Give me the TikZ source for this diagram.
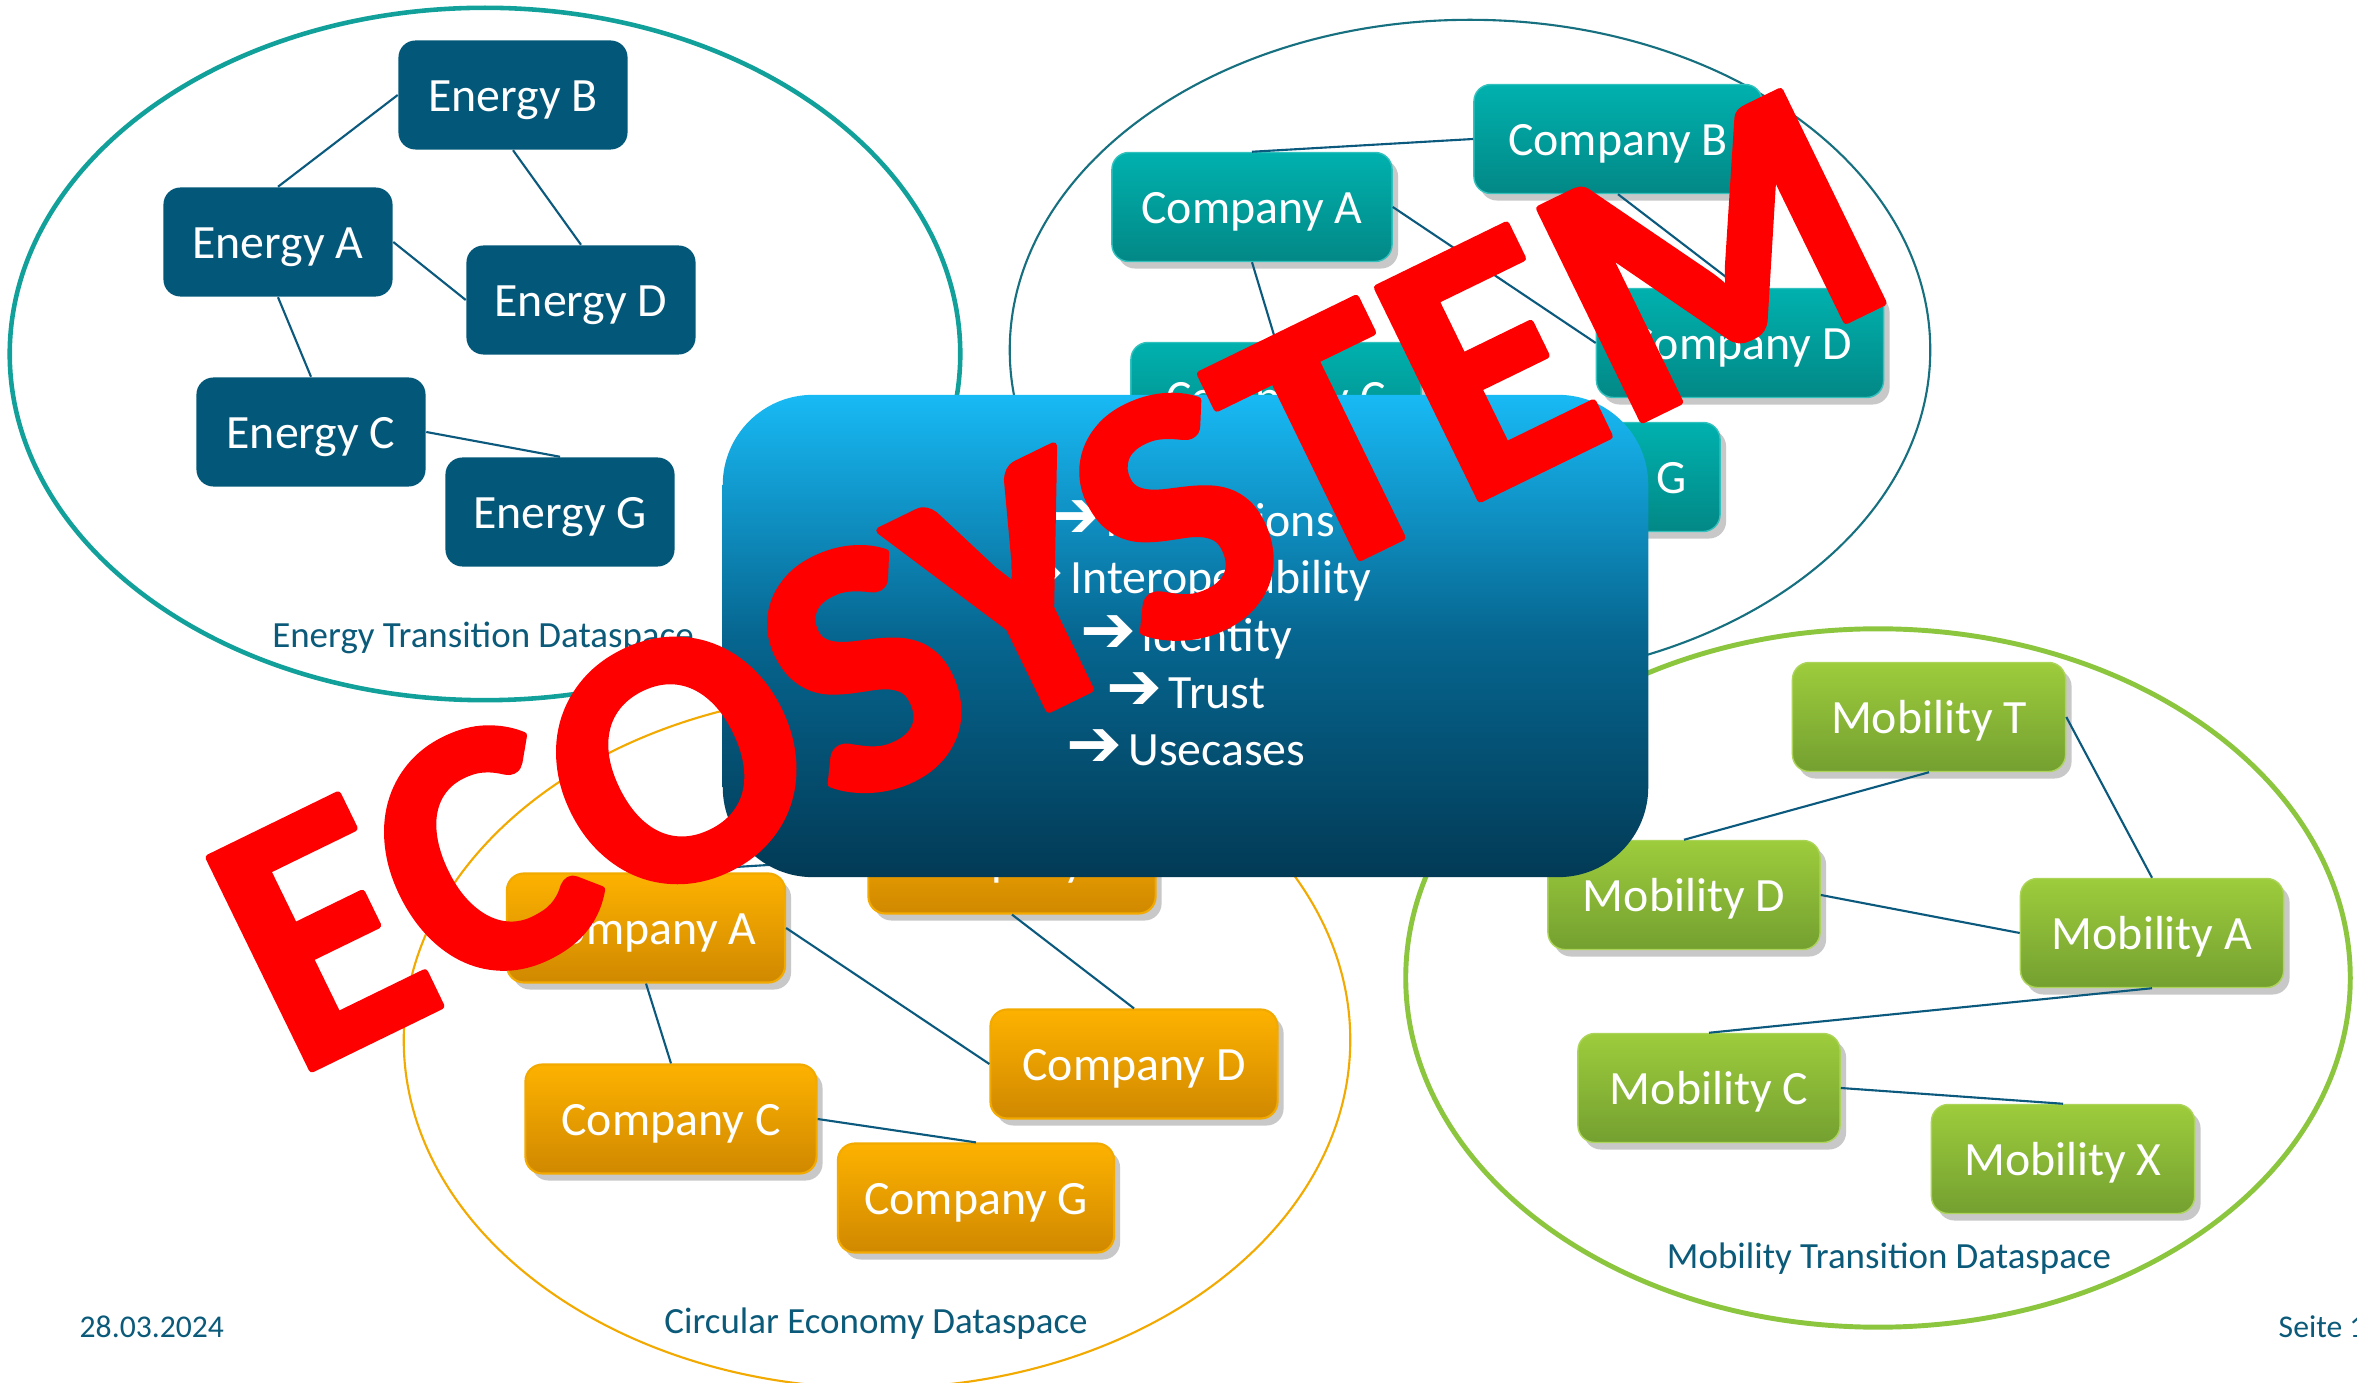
\documentclass[tikz,border=0pt]{standalone}
\usepackage{fontspec}
\setmainfont{Carlito}
\newfontfamily\arrowfont{DejaVu Sans}
\usetikzlibrary{shadows}
\definecolor{energyblue}{HTML}{03587A}
\definecolor{tealtop}{HTML}{00B1AE}
\definecolor{tealbot}{HTML}{028886}
\definecolor{orangetop}{HTML}{FDB200}
\definecolor{orangebot}{HTML}{D08800}
\definecolor{orangeline}{HTML}{F2A900}
\definecolor{greentop}{HTML}{9DCC3C}
\definecolor{greenbot}{HTML}{74A030}
\definecolor{greenline}{HTML}{8CC63F}
\definecolor{ringteal}{HTML}{12A09B}
\definecolor{ringdark}{HTML}{17707F}
\definecolor{connblue}{HTML}{0B5A7E}
\definecolor{labelblue}{HTML}{0B5A7A}
\definecolor{hubtop}{HTML}{18BAF5}
\definecolor{hubmid}{HTML}{066690}
\definecolor{hubbot}{HTML}{023A55}
\definecolor{ecored}{HTML}{FF0000}
\newcommand{\hubarrow}{\raisebox{-0.02em}{\fontsize{19}{19}\arrowfont ➔}\hspace{0.12em}}
\tikzset{
  box/.style={rounded corners=0.17cm, minimum height=1.09cm, inner sep=0pt,
    text=white, font=\fontsize{13.6}{16}\selectfont, text height=10.6pt, text depth=1pt},
  shadowed/.style={drop shadow={shadow xshift=0.06cm, shadow yshift=-0.07cm, opacity=0.3, fill=black!70}},
  ebox/.style={box, fill=energyblue},
  tbox/.style={box, shadowed, top color=tealtop, bottom color=tealbot, draw=tealtop!80!white, line width=0.4pt},
  obox/.style={box, shadowed, top color=orangetop, bottom color=orangebot, draw=orangeline, line width=0.6pt},
  gbox/.style={box, shadowed, top color=greentop, bottom color=greenbot, draw=greentop!85!white, line width=0.4pt},
  conn/.style={draw=connblue, line width=0.6pt},
  ringlabel/.style={anchor=base, text=labelblue, font=\fontsize{10.5}{12}\selectfont},
  foot/.style={anchor=base west, inner sep=0pt, text=labelblue, font=\fontsize{9}{11}\selectfont},
  hubline/.style={anchor=base, text=white, inner sep=0pt, font=\fontsize{13.6}{16}\selectfont},
}
\begin{document}
\begin{tikzpicture}[x=0.01cm, y=-0.01cm]
\useasboundingbox[fill=white] (0,0) rectangle (2357,1383);

% rings
\draw[ringteal, line width=1.3pt] (485,354) ellipse [x radius=4.75cm, y radius=3.46cm];
\draw[ringdark, line width=0.6pt] (1470,350) ellipse [x radius=4.6cm, y radius=3.3cm];
\draw[orangeline, line width=0.6pt] (877,1040) ellipse [x radius=4.73cm, y radius=3.48cm];
\draw[greenline, line width=1.4pt] (1878,978) ellipse [x radius=4.72cm, y radius=3.49cm];

% energy nodes
\node[ebox, minimum width=2.29cm] (eB) at (513,95) {Energy B};
\node[ebox, minimum width=2.29cm] (eA) at (278,242) {Energy A};
\node[ebox, minimum width=2.29cm] (eD) at (581,300) {Energy D};
\node[ebox, minimum width=2.29cm] (eC) at (311,432) {Energy C};
\node[ebox, minimum width=2.29cm] (eG) at (560,512) {Energy G};
\draw[conn] (eA.north) -- (eB.west);
\draw[conn] (eB.south) -- (eD.north);
\draw[conn] (eA.east) -- (eD.west);
\draw[conn] (eA.south) -- (eC.north);
\draw[conn] (eC.east) -- (eG.north);

% teal company nodes
\node[tbox, minimum width=2.88cm] (tB) at (1618,139) {Company B};
\node[tbox, minimum width=2.80cm] (tA) at (1252,207) {Company A};
\node[tbox, minimum width=2.87cm] (tD) at (1740,343) {Company D};
\node[tbox, minimum width=2.90cm] (tC) at (1276,397) {Company C};
\node[tbox, minimum width=2.90cm] (tG) at (1575,477) {Company G};
\draw[conn] (tA.north) -- (tB.west);
\draw[conn] (tB.south) -- (tD.north);
\draw[conn] (tA.east) -- (tD.west);
\draw[conn] (tA.south) -- (tC.north);

% orange company nodes
\node[obox, minimum width=2.87cm] (oB) at (1012,859) {Company B};
\node[obox, minimum width=2.78cm] (oA) at (646,928) {Company A};
\node[obox, minimum width=2.87cm] (oD) at (1134,1064) {Company D};
\node[obox, minimum width=2.91cm] (oC) at (671,1119) {Company C};
\node[obox, minimum width=2.76cm] (oG) at (976,1198) {Company G};
\draw[conn] (oA.north) -- (oB.west);
\draw[conn] (oB.south) -- (oD.north);
\draw[conn] (oA.east) -- (oD.west);
\draw[conn] (oA.south) -- (oC.north);
\draw[conn] (oC.east) -- (oG.north);

% mobility nodes
\node[gbox, minimum width=2.73cm] (mT) at (1929,717) {Mobility T};
\node[gbox, minimum width=2.72cm] (mD) at (1684,895) {Mobility D};
\node[gbox, minimum width=2.63cm] (mA) at (2152,933) {Mobility A};
\node[gbox, minimum width=2.62cm] (mC) at (1709,1088) {Mobility C};
\node[gbox, minimum width=2.63cm] (mX) at (2063,1159) {Mobility X};
\draw[conn] (mT.south) -- (mD.north);
\draw[conn] (mT.east) -- (mA.north);
\draw[conn] (mD.east) -- (mA.west);
\draw[conn] (mA.south) -- (mC.north);
\draw[conn] (mC.east) -- (mX.north);

% ring labels
\node[ringlabel] (lE) at (483,648) {Energy Transition Dataspace};
\node[ringlabel] (lC) at (876,1333) {Circular Economy Dataspace};
\node[ringlabel] (lM) at (1889,1268) {Mobility Transition Dataspace};

% central hub
\node[rounded corners=0.9cm, minimum width=9.25cm, minimum height=4.82cm, inner sep=0pt,
      top color=hubtop, bottom color=hubbot, middle color=hubmid] (hub) at (1185.5,636) {};
\node[hubline] (h1) at (1190,537) {\hubarrow Federations};
\node[hubline] (h2) at (1190,594) {\hubarrow Interoperability};
\node[hubline] (h3) at (1186,652) {\hubarrow Identity};
\node[hubline] (h4) at (1186,709) {\hubarrow Trust};
\node[hubline] (h5) at (1186,766) {\hubarrow Usecases};

% footer
\node[foot] (date) at (79,1337) {28.03.2024};
\node[foot] (page) at (2278,1337) {Seite 1};

% stamp
\node[rotate=26, anchor=base, inner sep=0pt, text=ecored,
      font=\fontsize{103}{103}\selectfont\bfseries] (eco) at (1099,685)
  {\special{pdf:literal direct 1 j 1 J 2 w 1 0 0 RG 2 Tr}ECOSYSTEM\special{pdf:literal direct 0 Tr}};
\end{tikzpicture}
\end{document}
